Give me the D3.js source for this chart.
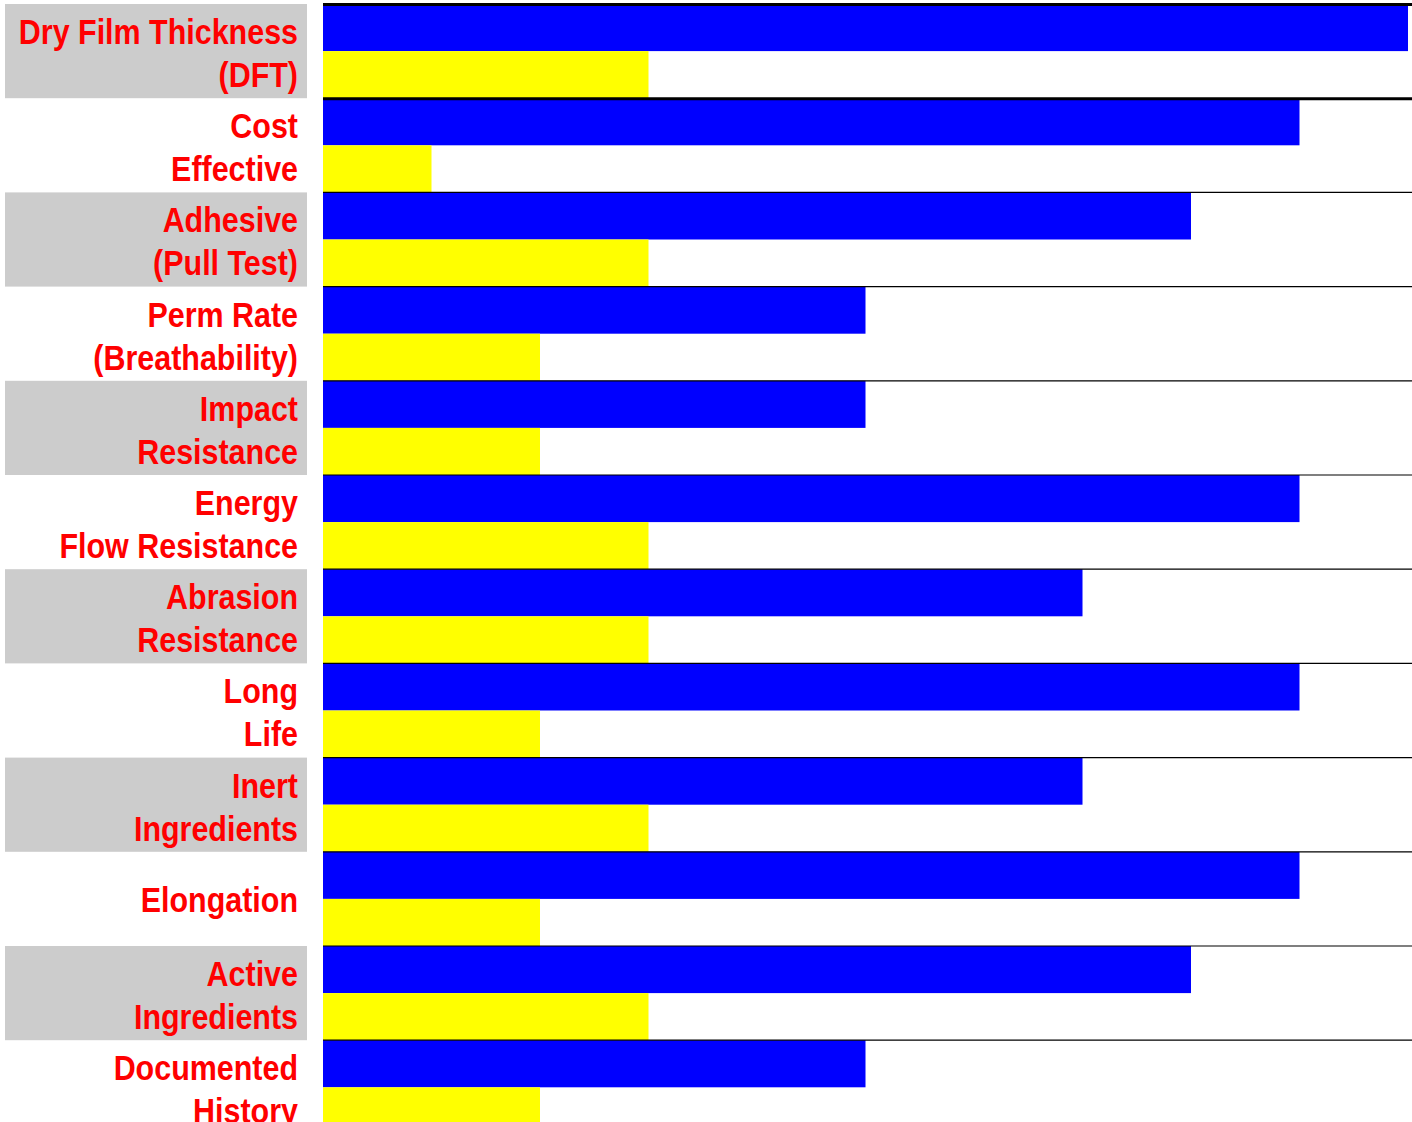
<!DOCTYPE html>
<html>
<head>
<meta charset="utf-8">
<script src="https://cdn.jsdelivr.net/npm/d3@7"></script>
<style>
  html, body { margin: 0; padding: 0; background: #fff; }
  svg { display: block; }
</style>
</head>
<body>
<svg id="chart" width="1412" height="1122"></svg>
<script>
// Performance ratings per property (0–10 scale)
const categories = [
  "Dry Film Thickness (DFT)", "Cost Effective", "Adhesive (Pull Test)",
  "Perm Rate (Breathability)", "Impact Resistance", "Energy Flow Resistance",
  "Abrasion Resistance", "Long Life", "Inert Ingredients", "Elongation",
  "Active Ingredients", "Documented History"
];
const labelLines = [
  ["Dry Film Thickness", "(DFT)"], ["Cost", "Effective"], ["Adhesive", "(Pull Test)"],
  ["Perm Rate", "(Breathability)"], ["Impact", "Resistance"], ["Energy", "Flow Resistance"],
  ["Abrasion", "Resistance"], ["Long", "Life"], ["Inert", "Ingredients"], ["Elongation"],
  ["Active", "Ingredients"], ["Documented", "History"]
];
const blueValues   = [10, 9, 8, 5, 5, 9, 7, 9, 7, 9, 8, 5];
const yellowValues = [3, 1, 3, 2, 2, 3, 3, 2, 3, 2, 3, 2];
const seriesKeys = ["blue", "yellow"];
const seriesColors = ["#0000ff", "#ffff00"];

const svg = d3.select("#chart");

const x = d3.scaleLinear().domain([0, 10]).range([323, 1408]);
const y = d3.scaleBand().domain(categories).range([4, 4 + 12 * 94.2]).padding(0);
const ySub = d3.scaleBand().domain(seriesKeys).range([0, y.bandwidth()]).padding(0);
const color = d3.scaleOrdinal().domain(seriesKeys).range(seriesColors);

const rows = categories.map((c, i) => ({
  cat: c, i, lines: labelLines[i],
  values: [{ key: "blue", v: blueValues[i] }, { key: "yellow", v: yellowValues[i] }]
}));

// Alternating grey label panels
svg.append("g").selectAll("rect")
  .data(rows.filter(d => d.i % 2 === 0))
  .join("rect")
  .attr("x", 5).attr("width", 302)
  .attr("y", d => y(d.cat)).attr("height", y.bandwidth())
  .attr("fill", "#cccccc");

// Bars
const g = svg.append("g").selectAll("g")
  .data(rows).join("g")
  .attr("transform", d => `translate(0,${y(d.cat)})`);
g.selectAll("rect")
  .data(d => d.values).join("rect")
  .attr("x", x(0))
  .attr("y", d => ySub(d.key))
  .attr("width", d => x(d.v) - x(0))
  .attr("height", ySub.bandwidth())
  .attr("fill", d => color(d.key));

// Row separators
svg.append("g").selectAll("line")
  .data(rows)
  .join("line")
  .attr("x1", x(0)).attr("x2", 1412)
  .attr("y1", d => y(d.cat) + (d.i < 2 ? 0.5 : 0)).attr("y2", d => y(d.cat) + (d.i < 2 ? 0.5 : 0))
  .attr("stroke", "#000")
  .attr("stroke-width", d => d.i < 2 ? 3 : 1.2);

// Category labels, horizontally condensed
const lbl = svg.append("g").selectAll("text")
  .data(rows).join("text")
  .attr("text-anchor", "end")
  .attr("fill", "#ff0000")
  .attr("font-family", "'Liberation Sans Narrow', 'Arial Narrow', 'Liberation Sans', Arial, sans-serif")
  .attr("font-weight", "bold")
  .attr("font-size", 35)
  .attr("transform", "translate(298,0) scale(0.87,1)");
lbl.each(function (d) {
  const cy = y(d.cat) + y.bandwidth() / 2;
  const t = d3.select(this);
  if (d.lines.length === 1) {
    t.append("tspan").attr("x", 0).attr("y", cy + 13).text(d.lines[0]);
  } else {
    t.append("tspan").attr("x", 0).attr("y", cy - 7).text(d.lines[0]);
    t.append("tspan").attr("x", 0).attr("y", cy + 36).text(d.lines[1]);
  }
});
</script>
</body>
</html>
